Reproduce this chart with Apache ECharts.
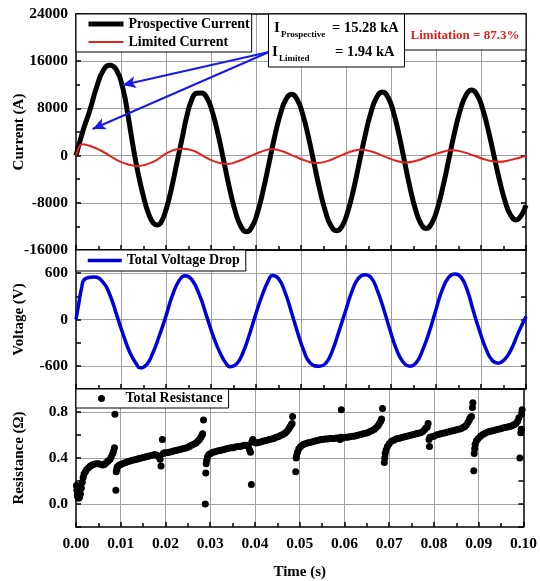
<!DOCTYPE html>
<html><head><meta charset="utf-8">
<script src="https://cdn.jsdelivr.net/npm/echarts@6/dist/echarts.min.js"></script>
<style>html,body{margin:0;padding:0;background:#fff}#c{width:540px;height:581px}</style>
</head><body><div id="c"></div>
<script>
// ---- tick definitions ----
const timeTicks = [0, 0.01, 0.02, 0.03, 0.04, 0.05, 0.06, 0.07, 0.08, 0.09, 0.10];
const currentTicks = [-16000, -8000, 0, 8000, 16000, 24000];
const voltageTicks = [-600, 0, 600];
const voltageRange = [-900, 900];
const resistanceTicks = [0.0, 0.4, 0.8];
const resistanceRange = [-0.2, 1.0];

// ---- series data [time (s), value] ----
const prospectiveCurrent = [
  [0,0],[0.0016,4340],[0.0031,7730],[0.0046,11680],[0.0061,14500],[0.0074,15300],[0.0090,14500],
  [0.0105,11120],[0.0116,6590],[0.0127,1500],[0.0138,-3000],[0.0150,-6970],[0.0161,-9780],[0.0172,-11470],
  [0.0181,-11760],[0.0190,-11200],[0.0202,-8660],[0.0213,-5270],[0.0224,-1300],[0.0235,2640],[0.0246,6590],
  [0.0257,9420],[0.0268,10560],[0.0279,10600],
  [0.02915,9707],[0.0304,7157],[0.03165,3350],[0.0329,-1150],[0.03415,-5650],[0.0354,-9457],[0.03665,-12007],[0.0379,-12900],
  [0.03915,-12015],[0.0404,-9487],[0.04165,-5712],[0.0429,-1250],[0.04415,3212],[0.0454,6987],[0.04665,9515],[0.0479,10400],
  [0.04915,9500],[0.0504,6950],[0.05165,3150],[0.0529,-1300],[0.05415,-5700],[0.0554,-9400],[0.05665,-11900],[0.0579,-12750],
  [0.05918,-11900],[0.06045,-9350],[0.06173,-5550],[0.063,-1000],[0.06428,3500],[0.06555,7328],[0.06683,9899],[0.0681,10800],
  [0.06931,9920],[0.07053,7408],[0.07174,3658],[0.07295,-775],[0.07416,-5208],[0.07538,-8958],[0.07659,-11470],[0.0778,-12350],
  [0.07906,-11459],[0.08033,-8915],[0.08159,-5116],[0.08285,-625],[0.08411,3866],[0.08538,7665],[0.08664,10209],[0.0879,11100],
  [0.08914,10264],[0.09038,7877],[0.09161,4313],[0.09285,100],[0.09409,-4113],[0.09533,-7677],[0.09656,-10064],[0.0978,-10900],
  [0.0989,-10200],[0.1,-8400]
];
const limitedCurrent = [
  [0,0],[0.0004,900],[0.0008,1600],[0.0013,1910],[0.0031,1630],[0.0053,950],[0.0076,-70],[0.0098,-1030],[0.0120,-1590],
  [0.0138,-1760],[0.0157,-1480],[0.0179,-750],[0.0201,390],[0.0224,1070],[0.0238,1170],[0.0261,830],[0.0283,-70],
  [0.0305,-920],[0.0327,-1370],[0.0336,-1420],[0.0360,-950],[0.0385,-170],[0.0410,620],[0.0435,1070],[0.0460,700],
  [0.0485,-100],[0.0510,-850],[0.0535,-1250],[0.0560,-900],[0.0584,-130],[0.0608,600],[0.0633,1000],[0.0658,650],
  [0.0683,-80],[0.0708,-800],[0.0733,-1150],[0.0758,-830],[0.0784,-120],[0.0810,520],[0.0835,900],[0.0861,590],
  [0.0887,-80],[0.0912,-720],[0.0938,-1060],[0.0969,-680],[0.1000,-30]
];
const totalVoltageDrop = [
  [0,0],[0.0006,200],[0.0012,395],[0.0020,525],[0.0039,550],[0.0060,483],[0.0076,308],[0.0091,47],[0.0106,-214],
  [0.0120,-430],[0.0135,-583],[0.0142,-626],[0.0157,-583],[0.0171,-430],[0.0185,-214],[0.0200,47],[0.0214,308],
  [0.0229,503],[0.0242,568],[0.0257,520],[0.0275,308],[0.0290,47],[0.0305,-214],[0.0320,-430],[0.0335,-583],
  [0.0342,-613],[0.0357,-575],[0.0371,-430],[0.0385,-200],[0.0399,60],[0.0414,320],[0.0428,510],[0.0436,570],
  [0.0450,530],[0.0464,360],[0.0478,110],[0.0492,-160],[0.0506,-400],[0.0520,-560],[0.0541,-605],[0.0556,-560],
  [0.0570,-400],[0.0584,-160],[0.0599,110],[0.0613,360],[0.0627,530],[0.0642,580],[0.0656,540],[0.0670,370],
  [0.0685,110],[0.0699,-160],[0.0713,-400],[0.0728,-560],[0.0742,-605],[0.0756,-560],[0.0770,-400],[0.0785,-160],
  [0.0799,110],[0.0813,370],[0.0828,545],[0.0842,590],[0.0856,545],[0.0870,370],[0.0883,110],[0.0897,-150],
  [0.0911,-380],[0.0925,-530],[0.0938,-565],[0.0952,-520],[0.0966,-400],[0.0983,-170],[0.1000,40]
];
const totalResistance = [
  [0.0001,0.16],[0.0002,0.12],[0.0003,0.08],[0.0004,0.06],[0.0006,0.05],[0.0008,0.06],[0.0010,0.09],[0.0012,0.14],
  [0.0014,0.19],[0.0016,0.23],[0.0018,0.26],[0.0021,0.28],[0.0024,0.30],[0.0028,0.315],[0.0032,0.33],[0.0036,0.34],
  [0.0040,0.345],[0.0045,0.35],[0.0050,0.35],[0.0055,0.345],[0.0060,0.34],[0.0064,0.345],[0.0068,0.36],[0.0072,0.375],
  [0.0076,0.39],[0.0079,0.41],[0.0082,0.44],[0.0084,0.46],[0.0086,0.49],[0.0087,0.78],[0.0089,0.12],
  [0.0090,0.28],[0.0091,0.30],[0.0092,0.32],[0.0094,0.33],[0.0097,0.34],[0.0101,0.345],[0.0106,0.355],[0.0111,0.36],
  [0.0116,0.37],[0.0121,0.375],[0.0126,0.38],[0.0131,0.385],[0.0136,0.39],[0.0141,0.395],[0.0146,0.40],[0.0151,0.405],
  [0.0156,0.41],[0.0161,0.415],[0.0166,0.42],[0.0171,0.425],[0.0176,0.43],[0.0181,0.425],[0.0185,0.41],[0.0188,0.39],
  [0.0190,0.33],[0.0193,0.56],
  [0.0195,0.44],[0.0198,0.445],[0.0203,0.445],[0.0208,0.45],[0.0213,0.455],[0.0218,0.46],[0.0223,0.465],[0.0228,0.47],
  [0.0233,0.475],[0.0238,0.48],[0.0243,0.485],[0.0248,0.49],[0.0253,0.50],[0.0258,0.51],[0.0263,0.52],[0.0268,0.53],
  [0.0272,0.545],[0.0276,0.56],[0.0279,0.58],[0.0282,0.60],[0.0283,0.61],[0.0285,0.73],
  [0.0289,0.00],[0.0290,0.27],[0.0291,0.35],[0.0292,0.38],[0.0294,0.41],[0.0297,0.43],[0.0301,0.44],[0.0306,0.45],
  [0.0311,0.455],[0.0316,0.46],[0.0321,0.465],[0.0326,0.47],[0.0331,0.475],[0.0336,0.48],[0.0341,0.485],[0.0346,0.49],
  [0.0351,0.49],[0.0356,0.495],[0.0361,0.50],[0.0366,0.50],[0.0371,0.505],[0.0376,0.51],[0.0381,0.51],[0.0385,0.50],
  [0.0388,0.47],[0.0390,0.45],[0.0392,0.17],[0.0393,0.54],[0.0395,0.56],
  [0.0398,0.54],[0.0402,0.53],[0.0407,0.535],[0.0412,0.54],[0.0417,0.545],[0.0422,0.55],[0.0427,0.555],[0.0432,0.56],
  [0.0437,0.565],[0.0442,0.57],[0.0447,0.58],[0.0452,0.585],[0.0457,0.595],[0.0462,0.605],[0.0467,0.615],[0.0471,0.63],
  [0.0475,0.65],[0.0478,0.67],[0.0481,0.69],[0.0483,0.70],[0.0484,0.76],
  [0.0491,0.28],[0.0492,0.40],[0.0493,0.42],[0.0495,0.45],[0.0498,0.48],[0.0502,0.50],[0.0507,0.515],[0.0512,0.525],
  [0.0517,0.53],[0.0522,0.535],[0.0527,0.54],[0.0532,0.545],[0.0537,0.55],[0.0542,0.555],[0.0547,0.56],[0.0552,0.56],
  [0.0557,0.565],[0.0562,0.565],[0.0567,0.57],[0.0572,0.57],[0.0577,0.57],[0.0582,0.575],[0.0587,0.575],[0.0590,0.56],
  [0.0592,0.58],[0.0593,0.82],[0.0597,0.575],[0.0602,0.58],[0.0607,0.58],[0.0612,0.585],[0.0617,0.59],[0.0622,0.59],
  [0.0627,0.595],[0.0632,0.60],[0.0637,0.605],[0.0642,0.61],[0.0647,0.615],[0.0652,0.62],[0.0657,0.63],[0.0662,0.64],
  [0.0667,0.65],[0.0671,0.665],[0.0675,0.68],[0.0678,0.70],[0.0681,0.72],[0.0683,0.74],[0.0685,0.83],
  [0.0689,0.36],[0.0690,0.40],[0.0691,0.44],[0.0693,0.47],[0.0696,0.50],[0.0700,0.525],[0.0705,0.545],[0.0710,0.555],
  [0.0715,0.565],[0.0720,0.57],[0.0725,0.575],[0.0730,0.58],[0.0735,0.585],[0.0740,0.59],[0.0745,0.595],[0.0750,0.60],
  [0.0755,0.605],[0.0760,0.61],[0.0765,0.615],[0.0770,0.62],[0.0775,0.63],[0.0779,0.645],[0.0782,0.66],[0.0785,0.67],
  [0.0787,0.70],[0.0789,0.56],[0.0790,0.50],[0.0791,0.58],
  [0.0795,0.585],[0.0800,0.59],[0.0805,0.60],[0.0810,0.605],[0.0815,0.61],[0.0820,0.615],[0.0825,0.62],[0.0830,0.625],
  [0.0835,0.63],[0.0840,0.635],[0.0845,0.64],[0.0850,0.645],[0.0855,0.65],[0.0860,0.655],[0.0865,0.665],[0.0869,0.675],
  [0.0873,0.69],[0.0876,0.71],[0.0879,0.73],[0.0881,0.75],[0.0884,0.76],[0.0886,0.84],[0.0887,0.88],
  [0.0889,0.29],[0.0890,0.44],[0.0891,0.48],[0.0892,0.52],[0.0895,0.55],[0.0899,0.57],[0.0904,0.59],[0.0909,0.605],
  [0.0914,0.615],[0.0919,0.625],[0.0924,0.63],[0.0929,0.635],[0.0934,0.64],[0.0939,0.645],[0.0944,0.65],[0.0949,0.655],
  [0.0954,0.66],[0.0959,0.665],[0.0964,0.67],[0.0969,0.675],[0.0974,0.68],[0.0979,0.69],[0.0983,0.70],[0.0987,0.72],
  [0.0990,0.75],[0.0992,0.40],[0.0994,0.62],[0.0995,0.65],[0.0996,0.78],[0.0997,0.82]
];
// annotation arrows, in data coordinates of the current panel [time, current]
const annotationArrows = [
  [[0.0429, 17560], [0.0104, 11970]],
  [[0.0429, 17560], [0.0037, 4510]]
];

const FONT = 'Liberation Serif';
const GRID_COLOR = '#a0a0a0';
const AX = {color: '#000', width: 1.5};

const grids = [
  {left: 76, top: 14, width: 450, height: 236},
  {left: 76, top: 250, width: 450, height: 139},
  {left: 76, top: 389, width: 450, height: 139}
];

const tStep = timeTicks[1] - timeTicks[0];
function xAxes(i) {
  return [
    {gridIndex: i, type: 'value', position: 'bottom',
     min: timeTicks[0], max: timeTicks[timeTicks.length - 1], interval: tStep,
     axisLine: {show: true, onZero: false, lineStyle: AX},
     axisTick: {show: true, inside: true, length: 5, lineStyle: AX},
     minorTick: {show: true, splitNumber: 2, length: 4, lineStyle: AX},
     axisLabel: {show: i === 2, margin: 9, fontFamily: FONT, fontWeight: 'bold', fontSize: 15.5, color: '#000',
       formatter: v => v.toFixed(2)},
     splitLine: {show: true, showMinLine: false, showMaxLine: false, lineStyle: {color: GRID_COLOR, width: 1}},
     name: i === 2 ? 'Time (s)' : '', nameLocation: 'middle', nameGap: 38, nameMoveOverlap: false,
     nameTextStyle: {fontFamily: FONT, fontWeight: 'bold', fontSize: 15, color: '#000'}},
    {gridIndex: i, type: 'value', position: 'top',
     min: timeTicks[0], max: timeTicks[timeTicks.length - 1], interval: tStep,
     axisLine: {show: true, onZero: false, lineStyle: AX},
     axisTick: {show: false}, axisLabel: {show: false}, splitLine: {show: false}}
  ];
}

function yAxes(i, min, max, interval, labelFn, splitColors, name) {
  const common = {gridIndex: i, type: 'value', min, max, interval};
  return [
    Object.assign({}, common, {position: 'left',
      axisLine: {show: true, onZero: false, lineStyle: AX},
      axisTick: {show: true, inside: true, length: 5, lineStyle: AX},
      minorTick: {show: i === 0, splitNumber: 2, length: 4, lineStyle: AX},
      axisLabel: {margin: 8, fontFamily: FONT, fontWeight: 'bold', fontSize: 15.5, color: '#000', formatter: labelFn},
      splitLine: {show: true, showMaxLine: false, lineStyle: {color: splitColors, width: 1}},
      name, nameLocation: 'middle', nameGap: 49, nameMoveOverlap: false,
      nameTextStyle: {fontFamily: FONT, fontWeight: 'bold', fontSize: 15, color: '#000'}}),
    Object.assign({}, common, {position: 'right',
      axisLine: {show: true, onZero: false, lineStyle: AX},
      axisTick: {show: true, inside: true, length: 5, lineStyle: AX},
      minorTick: {show: i === 0, splitNumber: 2, length: 4, lineStyle: AX},
      axisLabel: {show: false}, splitLine: {show: false}})
  ];
}

const cStep = currentTicks[1] - currentTicks[0];
const vStep = (voltageTicks[1] - voltageTicks[0]) / 2;
const rStep = (resistanceTicks[1] - resistanceTicks[0]) / 2;

const option = {
  animation: false,
  backgroundColor: '#fff',
  textStyle: {fontFamily: FONT},
  grid: grids,
  xAxis: [].concat(xAxes(0), xAxes(1), xAxes(2)),
  yAxis: [].concat(
    yAxes(0, currentTicks[0], currentTicks[currentTicks.length - 1], cStep, v => String(v), GRID_COLOR, 'Current (A)'),
    yAxes(1, voltageRange[0], voltageRange[1], vStep,
      v => voltageTicks.indexOf(Math.round(v)) >= 0 ? String(Math.round(v)) : '',
      ['rgba(0,0,0,0)', GRID_COLOR], 'Voltage (V)'),
    yAxes(2, resistanceRange[0], resistanceRange[1], rStep,
      v => resistanceTicks.some(t => Math.abs(t - v) < 1e-6) ? v.toFixed(1) : '',
      ['rgba(0,0,0,0)', GRID_COLOR], 'Resistance (\u03A9)')
  ),
  legend: [
    {left: 76, top: 14, orient: 'vertical', itemWidth: 35, itemHeight: 14, itemGap: 2,
     padding: [2, 2, 2, 10], backgroundColor: '#fff', borderColor: '#000', borderWidth: 1, borderRadius: 0,
     selectedMode: false, itemStyle: {color: 'rgba(0,0,0,0)', borderWidth: 0},
     textStyle: {fontFamily: FONT, fontWeight: 'bold', fontSize: 14, color: '#000', lineHeight: 16},
     data: [{name: 'Prospective Current', lineStyle: {width: 5, color: '#000'}},
            {name: 'Limited Current', lineStyle: {width: 2, color: '#e3211c'}}]},
    {left: 76, top: 250, orient: 'vertical', itemWidth: 34, itemHeight: 14,
     padding: [3, 6, 3, 10], backgroundColor: '#fff', borderColor: '#000', borderWidth: 1, borderRadius: 0,
     selectedMode: false, itemStyle: {color: 'rgba(0,0,0,0)', borderWidth: 0},
     textStyle: {fontFamily: FONT, fontWeight: 'bold', fontSize: 14, color: '#000', lineHeight: 15},
     data: [{name: 'Total Voltage Drop', lineStyle: {width: 3.5, color: '#0000dc'}}]},
    {left: 76, top: 389, orient: 'vertical', itemWidth: 38, itemHeight: 7,
     padding: [2, 6, 2, 22], backgroundColor: '#fff', borderColor: '#000', borderWidth: 1, borderRadius: 0,
     selectedMode: false,
     textStyle: {fontFamily: FONT, fontWeight: 'bold', fontSize: 14, color: '#000', lineHeight: 15},
     data: [{name: 'Total Resistance', icon: 'circle'}]}
  ],
  series: [
    {name: 'Prospective Current', type: 'line', xAxisIndex: 0, yAxisIndex: 0, data: prospectiveCurrent,
     smooth: true, showSymbol: false, symbol: 'none', lineStyle: {color: '#000', width: 5}, itemStyle: {color: '#000'}, z: 3},
    {name: 'Limited Current', type: 'line', xAxisIndex: 0, yAxisIndex: 0, data: limitedCurrent,
     smooth: true, showSymbol: false, symbol: 'none', lineStyle: {color: '#e3211c', width: 2}, itemStyle: {color: '#e3211c'}, z: 4,
     markLine: {silent: true, animation: false, symbol: ['none', 'arrow'], symbolSize: [9, 13],
       lineStyle: {color: '#1a1ae6', width: 2, type: 'solid'}, label: {show: false}, emphasis: {disabled: true},
       data: annotationArrows.map(a => [{coord: a[0]}, {coord: a[1]}])}},
    {name: 'Total Voltage Drop', type: 'line', xAxisIndex: 2, yAxisIndex: 2, data: totalVoltageDrop,
     smooth: true, showSymbol: false, symbol: 'none', lineStyle: {color: '#0000dc', width: 3.5}, itemStyle: {color: '#0000dc'}},
    {name: 'Total Resistance', type: 'scatter', xAxisIndex: 4, yAxisIndex: 4, data: totalResistance,
     symbol: 'circle', symbolSize: 7, itemStyle: {color: '#000', opacity: 1}}
  ],
  graphic: [
    {type: 'rect', z: 20, shape: {x: 268.5, y: 14, width: 136, height: 53}, style: {fill: '#fff', stroke: '#000', lineWidth: 1}},
    {type: 'text', z: 21, x: 274, y: 28, style: {text: 'I', font: 'bold 15px "Liberation Serif"', fill: '#000', textVerticalAlign: 'middle'}},
    {type: 'text', z: 21, x: 281, y: 35, style: {text: 'Prospective', font: 'bold 9px "Liberation Serif"', fill: '#000', textVerticalAlign: 'middle'}},
    {type: 'text', z: 21, x: 332, y: 28, style: {text: '= 15.28 kA', font: 'bold 14.5px "Liberation Serif"', fill: '#000', textVerticalAlign: 'middle'}},
    {type: 'text', z: 21, x: 272, y: 52, style: {text: 'I', font: 'bold 15px "Liberation Serif"', fill: '#000', textVerticalAlign: 'middle'}},
    {type: 'text', z: 21, x: 279, y: 59, style: {text: 'Limited', font: 'bold 9px "Liberation Serif"', fill: '#000', textVerticalAlign: 'middle'}},
    {type: 'text', z: 21, x: 335, y: 52, style: {text: '= 1.94 kA', font: 'bold 14.5px "Liberation Serif"', fill: '#000', textVerticalAlign: 'middle'}},
    {type: 'rect', z: 20, shape: {x: 404.5, y: 14, width: 121.5, height: 36}, style: {fill: '#fff', stroke: '#000', lineWidth: 1}},
    {type: 'text', z: 21, x: 465, y: 36, style: {text: 'Limitation = 87.3%', font: 'bold 13px "Liberation Serif"', fill: '#e3211c', textAlign: 'center', textVerticalAlign: 'middle'}}
  ]
};

const chart = echarts.init(document.getElementById('c'), null, {renderer: 'canvas'});
chart.setOption(option);
</script>
</body></html>
